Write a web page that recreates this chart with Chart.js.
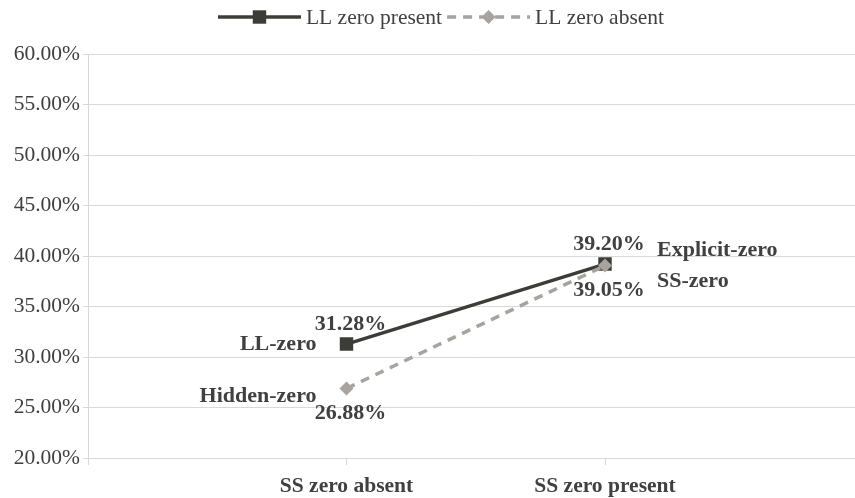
<!DOCTYPE html>
<html>
<head>
<meta charset="utf-8">
<script src="https://cdn.jsdelivr.net/npm/chart.js@4"></script>
<style>
  html, body { margin: 0; padding: 0; background: #fff; overflow: hidden; }
</style>
</head>
<body>
<canvas id="chart" width="873" height="498"></canvas>
<script>
const categories = ["SS zero absent", "SS zero present"]
const llPresent = [31.28, 39.20]
const llAbsent = [26.88, 39.05]
const presentNames = ["LL-zero", "Explicit-zero"]
const absentNames = ["Hidden-zero", "SS-zero"]
const seriesNames = ["LL zero present", "LL zero absent"]

const FONT = "'Liberation Serif', 'Times New Roman', serif"
const TEXT = "#404040"
const GRID = "#d9d9d9"
const DARK = "#3d3d38"
const LIGHT = "#a9a39e"

function pct(v) {
  return Number(v).toFixed(2) + "%"
}

// empty slots at both ends so the two categories sit at 1/3 and 2/3
const xLabels = [""].concat(categories, [""])

function pad(values) {
  return [null].concat(values, [null])
}

function drawMarker(ctx, style, x, y, r, color) {
  ctx.save()
  ctx.fillStyle = color
  ctx.beginPath()
  if (style === "rect") {
    const s = Math.SQRT1_2 * r
    ctx.rect(x - s, y - s, 2 * s, 2 * s)
  } else {
    ctx.moveTo(x, y - r)
    ctx.lineTo(x + r, y)
    ctx.lineTo(x, y + r)
    ctx.lineTo(x - r, y)
    ctx.closePath()
  }
  ctx.fill()
  ctx.restore()
}

const legendPlugin = {
  id: "topLegend",
  afterDraw(chart) {
    const ctx = chart.ctx
    const datasets = chart.data.datasets
    ctx.save()
    ctx.font = "21.5px " + FONT
    const lineLen = 83
    let total = 0
    datasets.forEach(function (ds, i) {
      total += lineLen + 5 + ctx.measureText(ds.label).width
      if (i < datasets.length - 1) total += 5
    })
    let x = 441 - total / 2
    const y = 17
    datasets.forEach(function (ds) {
      ctx.strokeStyle = ds.borderColor
      ctx.lineWidth = ds.borderWidth
      ctx.setLineDash(ds.borderDash || [])
      ctx.beginPath()
      ctx.moveTo(x, y)
      ctx.lineTo(x + lineLen, y)
      ctx.stroke()
      ctx.setLineDash([])
      drawMarker(ctx, ds.pointStyle, x + lineLen / 2, y, ds.pointRadius, ds.pointBackgroundColor)
      x += lineLen + 5
      ctx.fillStyle = TEXT
      ctx.textAlign = "left"
      ctx.textBaseline = "middle"
      ctx.fillText(ds.label, x, y + 1)
      x += ctx.measureText(ds.label).width + 5
    })
    ctx.restore()
  }
}

const labelPlugin = {
  id: "pointLabels",
  afterDatasetsDraw(chart) {
    const ctx = chart.ctx
    ctx.save()
    ctx.font = "bold 22px " + FONT
    ctx.fillStyle = TEXT
    ctx.textBaseline = "middle"
    chart.data.datasets.forEach(function (ds, i) {
      const meta = chart.getDatasetMeta(i)
      ds.names.forEach(function (name, j) {
        const el = meta.data[j + 1]
        const value = ds.data[j + 1]
        const above = i === 0
        ctx.textAlign = "center"
        ctx.fillText(pct(value), el.x + 4, above ? el.y - 20 : el.y + 25)
        if (j === 0) {
          ctx.textAlign = "right"
          ctx.fillText(name, el.x - 30, above ? el.y : el.y + 8)
        } else {
          ctx.textAlign = "left"
          ctx.fillText(name, el.x + 52, above ? el.y - 14 : el.y + 16)
        }
      })
    })
    ctx.restore()
  }
}

new Chart(document.getElementById("chart"), {
  type: "line",
  data: {
    labels: xLabels,
    datasets: [
      {
        label: seriesNames[0],
        data: pad(llPresent),
        names: presentNames,
        borderColor: DARK,
        backgroundColor: DARK,
        borderWidth: 3.5,
        pointStyle: "rect",
        pointRadius: 9.5,
        pointBackgroundColor: DARK,
        pointBorderWidth: 0,
        order: 1,
        tension: 0,
      },
      {
        label: seriesNames[1],
        data: pad(llAbsent),
        names: absentNames,
        borderColor: LIGHT,
        backgroundColor: LIGHT,
        borderWidth: 3.5,
        borderDash: [9, 7],
        pointStyle: "rectRot",
        pointRadius: 7,
        pointBackgroundColor: LIGHT,
        pointBorderWidth: 0,
        order: 0,
        tension: 0,
      },
    ],
  },
  options: {
    responsive: false,
    animation: false,
    layout: { padding: { top: 54, right: 0, left: 0, bottom: 0 } },
    plugins: {
      legend: { display: false },
      tooltip: { enabled: false },
    },
    scales: {
      x: {
        offset: false,
        grid: { drawOnChartArea: false, drawTicks: true, tickLength: 7, color: GRID },
        border: { color: GRID, width: 1 },
        ticks: {
          color: TEXT,
          font: { family: FONT, size: 21.5, weight: "bold" },
          padding: 9,
          maxRotation: 0,
          autoSkip: false,
        },
        afterFit(scale) { scale.height = 40 },
      },
      y: {
        min: 20,
        max: 60,
        ticks: {
          stepSize: 5,
          color: TEXT,
          font: { family: FONT, size: 21.5 },
          padding: 3,
          callback: function (v) { return pct(v) },
        },
        grid: { color: GRID, tickLength: 5 },
        border: { color: GRID, width: 1 },
        afterFit(scale) { scale.width = 88 },
      },
    },
  },
  plugins: [legendPlugin, labelPlugin],
})
</script>
</body>
</html>
